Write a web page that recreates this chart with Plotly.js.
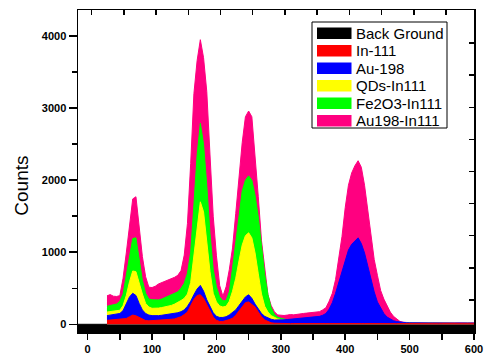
<!DOCTYPE html>
<html>
<head>
<meta charset="utf-8">
<script src="https://cdn.plot.ly/plotly-3.0.1.min.js"></script>
<style>
  html, body { margin: 0; padding: 0; background: #fff; }
  #chart { width: 490px; height: 360px; }
</style>
</head>
<body>
<div id="chart"></div>
<script>
// Multichannel spectra: counts per channel for each sample
const channels = [
  30, 35, 40, 45, 50, 55, 60, 65, 70, 75, 80, 85, 90, 95,
  100, 105, 110, 115, 120, 125, 130, 135, 140, 145,
  150, 155, 160, 165, 170, 175, 180, 185, 190, 195,
  200, 205, 210, 215, 220, 225, 230, 235, 240, 245,
  250, 255, 260, 265, 270, 275, 280, 285, 290, 295,
  300, 305, 310, 315, 320, 325, 330, 335, 340, 345,
  350, 355, 360, 365, 370, 375, 380, 385, 390, 395,
  400, 405, 410, 415, 420, 425, 430, 435, 440, 445,
  450, 455, 460, 465, 470, 475, 480, 485, 490, 495,
  500, 505, 510, 515, 520, 525, 530, 535, 540, 545,
  550, 555, 560, 565, 570, 575, 580, 585, 590, 595, 600
];

const au198In111 = [
  395, 412, 390, 386, 398, 640, 990, 1355, 1740, 1770, 1300, 940, 660, 515,
  510, 528, 560, 578, 605, 618, 640, 652, 680, 745,
  960, 1400, 2230, 3200, 3660, 3950, 3700, 3230, 2350, 1500,
  950, 540, 390, 520, 760, 1060, 1540, 2070, 2520, 2880,
  2960, 2880, 2350, 1770, 1160, 760, 410, 260, 175, 130,
  125, 122, 128, 135, 131, 140, 143, 150, 155, 158,
  165, 168, 175, 200, 230, 320, 430, 620, 900, 1220,
  1620, 1930, 2100, 2200, 2270, 2180, 1930, 1600, 1230, 900,
  680, 470, 350, 250, 170, 110, 70, 40, 28, 24,
  22, 21, 23, 20, 22, 21, 20, 22, 21, 20,
  22, 21, 20, 22, 21, 20, 22, 21, 20, 21, 20
];

const fe2o3In111 = [
  250, 262, 270, 282, 320, 420, 680, 930, 1190, 1200, 880, 610, 430, 350,
  340, 335, 338, 350, 370, 390, 405, 420, 450, 500,
  570, 710, 1000, 1660, 2350, 2790, 2500, 1930, 1260, 760,
  520, 380, 325, 330, 450, 780, 1130, 1550, 1850, 2000,
  2060, 2000, 1790, 1490, 1080, 690, 410, 230, 140, 100,
  85, 70, 62, 58, 55, 55, 56, 58, 60, 62,
  60, 60, 62, 62, 64, 66, 70, 75, 80, 85,
  90, 95, 100, 100, 100, 100, 95, 90, 80, 70,
  60, 50, 40, 32, 26, 22, 20, 18, 17, 16,
  16, 15, 16, 15, 14, 15, 14, 15, 14, 14,
  14, 13, 14, 13, 14, 13, 13, 14, 13, 12, 13
];

const qdsIn111 = [
  170, 178, 182, 186, 195, 260, 400, 590, 740, 730, 560, 420, 290, 240,
  222, 220, 225, 232, 240, 250, 262, 280, 300, 330,
  360, 420, 580, 950, 1380, 1700, 1560, 1150, 730, 430,
  310, 255, 240, 250, 320, 460, 640, 880, 1100, 1230,
  1270, 1200, 990, 700, 420, 250, 170, 120, 95, 75,
  65, 55, 50, 48, 46, 45, 45, 46, 47, 48,
  50, 50, 52, 54, 56, 60, 64, 68, 72, 76,
  80, 84, 86, 88, 88, 86, 82, 76, 68, 60,
  52, 44, 36, 30, 25, 21, 19, 17, 16, 15,
  15, 14, 15, 14, 14, 13, 14, 13, 13, 12,
  13, 12, 13, 12, 12, 11, 12, 11, 12, 11, 11
];

const au198 = [
  120, 130, 135, 140, 150, 190, 290, 380, 430, 400, 290, 200, 150, 128,
  120, 118, 120, 125, 130, 135, 140, 150, 160, 175,
  200, 250, 320, 410, 490, 540, 460, 340, 240, 160,
  110, 95, 95, 105, 130, 165, 200, 260, 320, 380,
  410, 360, 280, 210, 150, 110, 85, 70, 60, 58,
  60, 62, 66, 70, 74, 78, 82, 86, 90, 95,
  100, 105, 110, 125, 150, 210, 300, 430, 580, 750,
  900, 1030, 1110, 1160, 1200, 1120, 990, 810, 620, 450,
  310, 230, 150, 100, 70, 50, 38, 30, 25, 22,
  20, 19, 20, 18, 19, 18, 17, 18, 17, 16,
  17, 16, 17, 16, 15, 16, 15, 16, 15, 14, 15
];

const in111 = [
  55, 58, 60, 62, 64, 68, 80, 105, 128, 118, 95, 65, 52, 48,
  50, 52, 55, 58, 60, 65, 70, 75, 85, 105,
  135, 170, 260, 345, 400, 410, 360, 280, 180, 100,
  55, 40, 40, 50, 65, 85, 125, 185, 250, 300,
  310, 280, 240, 170, 105, 60, 35, 20, 15, 12,
  10, 11, 10, 9, 10, 11, 10, 10, 9, 10,
  10, 9, 10, 11, 10, 10, 9, 10, 10, 11,
  10, 10, 9, 10, 11, 10, 10, 9, 10, 10,
  9, 10, 10, 9, 10, 9, 9, 10, 9, 9,
  9, 8, 9, 9, 8, 9, 8, 9, 8, 8,
  9, 8, 8, 9, 8, 8, 7, 8, 8, 7, 8
];

const backGroundChannels = [-15, 0, 100, 200, 300, 400, 500, 600];
const backGround = [0, 0, 0, 0, 0, 0, 0, 0];

const seriesNames = ['Back Ground', 'In-111', 'Au-198', 'QDs-In111', 'Fe2O3-In111', 'Au198-In111'];
const seriesColors = ['#000000', '#ff0000', '#0000ff', '#ffff00', '#00ff00', '#ff0080'];

const xRange = [-15, 600];
const yRange = [-107, 4362];

const FONT = 'Liberation Sans, Arial, sans-serif';

// Plot area in pixels (used for the hand-drawn key)
const M = { l: 78, r: 16, t: 10, b: 28 };
const W = 490 - M.l - M.r;
const H = 360 - M.t - M.b;
const px = v => (v - M.l) / W;
const py = v => (M.t + H - v) / H;

function area(name, x, y, color, fill) {
  return {
    type: 'scatter', mode: 'lines', name: name,
    x: x, y: y, fill: fill, fillcolor: color,
    line: { color: color, width: 1 },
    showlegend: false, hoverinfo: 'skip'
  };
}

const traces = [
  // floor of the counts axis, so the background band reaches the frame
  { type: 'scatter', mode: 'lines', x: backGroundChannels,
    y: backGroundChannels.map(() => yRange[0]),
    line: { width: 0, color: '#000' }, showlegend: false, hoverinfo: 'skip' },
  area(seriesNames[0], backGroundChannels, backGround, seriesColors[0], 'tonexty'),
  area(seriesNames[5], channels, au198In111, seriesColors[5], 'tozeroy'),
  area(seriesNames[4], channels, fe2o3In111, seriesColors[4], 'tozeroy'),
  area(seriesNames[3], channels, qdsIn111, seriesColors[3], 'tozeroy'),
  area(seriesNames[2], channels, au198, seriesColors[2], 'tozeroy'),
  area(seriesNames[1], channels, in111, seriesColors[1], 'tozeroy'),
  // carrier for the mirrored top / right tick frames
  { type: 'scatter', x: [], y: [], xaxis: 'x2', yaxis: 'y2', showlegend: false, hoverinfo: 'skip' }
];

const tickFont = { family: FONT, size: 11, color: '#000', weight: 'bold' };

// Key: framed box with colour swatches
const shapes = [{
  type: 'rect', xref: 'paper', yref: 'paper', layer: 'above',
  x0: px(312), x1: px(447), y0: py(22), y1: py(128),
  line: { color: '#000', width: 1 }, fillcolor: '#fff'
}];
const annotations = [{
  xref: 'paper', yref: 'paper', x: px(21.7), y: py(186),
  text: 'Counts', textangle: -90, showarrow: false,
  xanchor: 'center', yanchor: 'middle',
  font: { family: FONT, size: 19, color: '#000' }
}];
seriesNames.forEach((name, i) => {
  const c = 33.2 + 17.5 * i;
  shapes.push({
    type: 'rect', xref: 'paper', yref: 'paper', layer: 'above',
    x0: px(317), x1: px(351.5), y0: py(c - 5.8), y1: py(c + 5.8),
    line: { width: 0 }, fillcolor: seriesColors[i]
  });
  annotations.push({
    xref: 'paper', yref: 'paper', x: px(354), y: py(c),
    text: name, showarrow: false, xanchor: 'left', yanchor: 'middle',
    font: { family: FONT, size: 15, color: '#000' }
  });
});

const layout = {
  width: 490, height: 360,
  margin: M,
  paper_bgcolor: '#fff', plot_bgcolor: '#fff',
  showlegend: false,
  xaxis: {
    range: xRange, tick0: 0, dtick: 100,
    ticks: 'outside', ticklen: 6, tickwidth: 1.5, tickcolor: '#000',
    minor: { dtick: 50, ticks: 'outside', ticklen: 6, tickwidth: 1.5, tickcolor: '#000' },
    showline: true, linewidth: 1.5, linecolor: '#000',
    showgrid: false, zeroline: false, tickfont: tickFont
  },
  yaxis: {
    range: yRange, tick0: 0, dtick: 1000,
    ticks: 'outside', ticklen: 8, tickwidth: 1.5, tickcolor: '#000',
    minor: { dtick: 500, ticks: 'outside', ticklen: 5, tickwidth: 1.5, tickcolor: '#000' },
    showline: true, linewidth: 1.5, linecolor: '#000',
    showgrid: false, zeroline: false, tickfont: tickFont
  },
  xaxis2: {
    overlaying: 'x', side: 'top', anchor: 'y',
    range: [-0.425, 11.87], tick0: 0, dtick: 1,
    ticks: 'inside', ticklen: 5, tickwidth: 1.5, tickcolor: '#000',
    showline: true, linewidth: 1.5, linecolor: '#000',
    showticklabels: false, showgrid: false, zeroline: false
  },
  yaxis2: {
    overlaying: 'y', side: 'right', anchor: 'x',
    range: [0, 10.03], tick0: 0, dtick: 1,
    ticks: 'inside', ticklen: 5, tickwidth: 1.5, tickcolor: '#000',
    showline: true, linewidth: 1.5, linecolor: '#000',
    showticklabels: false, showgrid: false, zeroline: false
  },
  shapes: shapes,
  annotations: annotations
};

Plotly.newPlot('chart', traces, layout, { staticPlot: true, displayModeBar: false });
</script>
</body>
</html>
